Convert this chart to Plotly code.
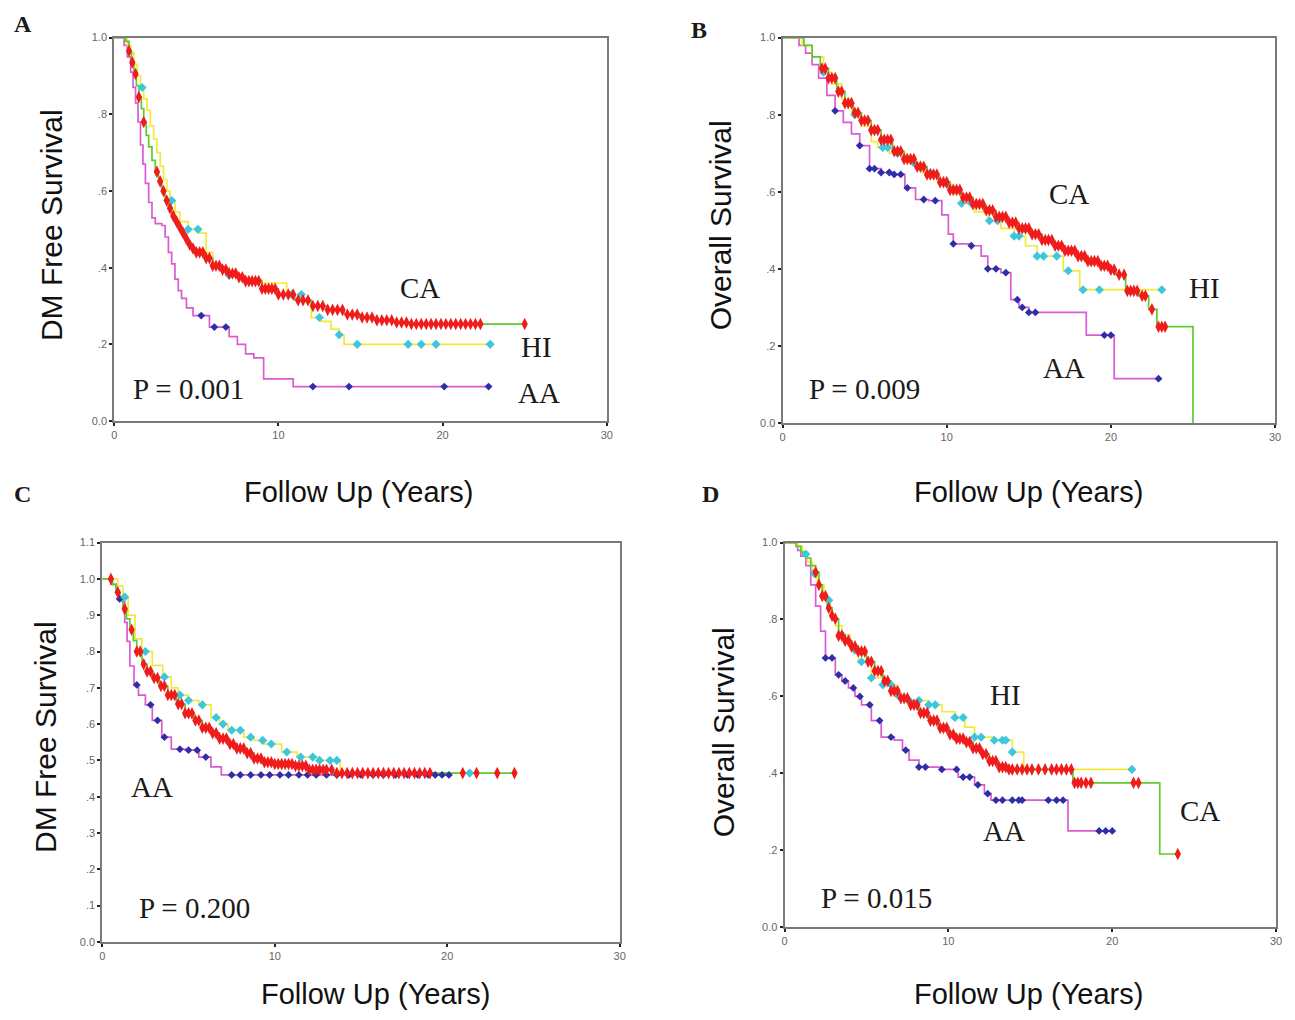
import numpy as np
import plotly.graph_objects as go

W, H = 1295, 1020

# ---------------- Tick labels ----------------
X_TICKS = [0, 10, 20, 30]
X_TICK_TEXT = ["0", "10", "20", "30"]
Y_TICKS = [0, 0.2, 0.4, 0.6, 0.8, 1.0]
Y_TICK_TEXT = ["0.0", ".2", ".4", ".6", ".8", "1.0"]
YC_TICKS = [0, 0.1, 0.2, 0.3, 0.4, 0.5, 0.6, 0.7, 0.8, 0.9, 1.0, 1.1]
YC_TICK_TEXT = ["0.0", ".1", ".2", ".3", ".4", ".5", ".6", ".7", ".8", ".9", "1.0", "1.1"]

# ---------------- Panel A: DM free survival ----------------
A_CA_t = [0, 0.7, 0.9, 1.05, 1.2, 1.35, 1.5, 1.65, 1.8, 1.95, 2.1, 2.3, 2.5, 2.7, 2.9, 3.1, 3.3, 3.5, 3.7, 3.9, 4.1, 4.3, 4.5, 4.75, 5.0, 5.5, 6.0, 6.5, 7.0, 7.5, 8.0, 9.0, 10.0, 11.0, 12.0, 13.0, 14.0, 15.0, 16.0, 17.0, 18.0]
A_CA_s = [1.0, 0.99, 0.965, 0.935, 0.905, 0.875, 0.845, 0.815, 0.78, 0.745, 0.715, 0.68, 0.65, 0.625, 0.60, 0.575, 0.555, 0.535, 0.52, 0.505, 0.49, 0.475, 0.46, 0.45, 0.44, 0.425, 0.405, 0.395, 0.385, 0.375, 0.365, 0.345, 0.33, 0.315, 0.30, 0.29, 0.278, 0.27, 0.263, 0.257, 0.253]
A_CA_end = 25.0
A_CA_cens = [0.9, 1.1, 1.3, 1.5, 1.8, 2.6, 2.8, 3.0, 3.2, 3.4, 3.6, 3.8, 4.0, 4.2, 4.4, 4.6, 4.8, 5.0, 5.2, 5.4, 5.6, 5.8, 6.0, 6.2, 6.4, 6.6, 6.8, 7.0, 7.2, 7.4, 7.6, 7.8, 8.0, 8.2, 8.4, 8.6, 8.8, 9.0, 9.2, 9.4, 9.6, 9.8, 10.0, 10.3, 10.6, 10.9, 11.2, 11.5, 11.8, 12.1, 12.4, 12.7, 13.0, 13.3, 13.6, 13.9, 14.2, 14.5, 14.8, 15.1, 15.4, 15.7, 16.0, 16.3, 16.6, 16.9, 17.2, 17.5, 17.8, 18.1, 18.4, 18.7, 19.0, 19.3, 19.6, 19.9, 20.2, 20.5, 20.8, 21.1, 21.4, 21.7, 22.0, 22.3, 25.0]

A_HI_t = [0, 0.8, 1.0, 1.2, 1.4, 1.6, 1.8, 2.0, 2.2, 2.4, 2.6, 2.8, 3.0, 3.2, 3.4, 3.7, 4.0, 4.5, 5.2, 5.6, 6.0, 7.0, 8.0, 9.0, 10.5, 11.5, 12.0, 12.6, 13.2, 13.7, 14.0]
A_HI_s = [1.0, 0.98, 0.96, 0.93, 0.90, 0.87, 0.84, 0.81, 0.77, 0.735, 0.70, 0.665, 0.63, 0.60, 0.575, 0.545, 0.52, 0.50, 0.49, 0.44, 0.40, 0.38, 0.37, 0.36, 0.33, 0.31, 0.27, 0.26, 0.24, 0.225, 0.20]
A_HI_end = 22.9
A_HI_cens = [1.7, 3.5, 4.5, 5.1, 7.0, 10.8, 11.4, 12.5, 13.7, 14.8, 17.9, 18.7, 19.6, 22.9]

A_AA_t = [0, 0.6, 0.8, 1.0, 1.15, 1.3, 1.45, 1.6, 1.75, 1.9, 2.1, 2.3, 2.5, 2.9, 3.1, 3.3, 3.5, 3.7, 3.9, 4.1, 4.4, 4.8, 5.8, 7.0, 7.5, 8.0, 8.5, 9.1, 10.9]
A_AA_s = [1.0, 0.98, 0.95, 0.91, 0.87, 0.83, 0.78, 0.72, 0.67, 0.62, 0.57, 0.53, 0.515, 0.51, 0.48, 0.44, 0.41, 0.37, 0.34, 0.32, 0.295, 0.275, 0.245, 0.22, 0.20, 0.175, 0.165, 0.11, 0.09]
A_AA_end = 22.8
A_AA_cens = [5.3, 6.1, 6.8, 12.1, 14.3, 20.1, 22.8]

# ---------------- Panel B: overall survival ----------------
B_CA_t = [0, 1.3, 1.8, 2.3, 2.8, 3.3, 3.8, 4.3, 4.8, 5.4, 6.0, 6.7, 7.4, 8.1, 8.8, 9.5, 10.2, 10.9, 11.6, 12.3, 13.0, 13.7, 14.4, 15.1, 15.8, 16.5, 17.2, 17.9, 18.6, 19.3, 19.9, 20.3, 20.9, 21.7, 22.3, 22.8, 25.0]
B_CA_s = [1.0, 0.98, 0.95, 0.92, 0.895, 0.86, 0.83, 0.805, 0.785, 0.76, 0.735, 0.705, 0.685, 0.665, 0.645, 0.625, 0.605, 0.585, 0.568, 0.552, 0.535, 0.52, 0.505, 0.49, 0.475, 0.46, 0.447, 0.433, 0.42, 0.408, 0.398, 0.385, 0.343, 0.33, 0.295, 0.25, 0.0]
B_CA_end = 25.0
B_CA_cens = [2.4, 2.6, 2.8, 3.0, 3.2, 3.4, 3.6, 3.8, 4.0, 4.2, 4.4, 4.6, 4.8, 5.0, 5.2, 5.4, 5.6, 5.8, 6.0, 6.2, 6.4, 6.6, 6.8, 7.0, 7.2, 7.4, 7.6, 7.8, 8.0, 8.2, 8.4, 8.6, 8.8, 9.0, 9.2, 9.4, 9.6, 9.8, 10.0, 10.2, 10.4, 10.6, 10.8, 11.0, 11.2, 11.4, 11.6, 11.8, 12.0, 12.2, 12.4, 12.6, 12.8, 13.0, 13.2, 13.4, 13.6, 13.8, 14.0, 14.2, 14.4, 14.6, 14.8, 15.0, 15.2, 15.4, 15.6, 15.8, 16.0, 16.2, 16.4, 16.6, 16.8, 17.0, 17.2, 17.4, 17.6, 17.8, 18.0, 18.2, 18.4, 18.6, 18.8, 19.0, 19.2, 19.4, 19.6, 19.8, 20.0, 20.2, 20.5, 20.8, 21.0, 21.2, 21.4, 21.6, 21.9, 22.1, 22.5, 22.9, 23.1, 23.3]

B_HI_t = [0, 1.2, 1.8, 2.5, 3.0, 3.6, 4.2, 4.8, 5.4, 5.8, 6.5, 7.5, 8.5, 9.5, 10.3, 10.9, 11.7, 12.5, 13.3, 14.1, 14.8, 15.5, 17.1, 18.1]
B_HI_s = [1.0, 0.98, 0.95, 0.91, 0.88, 0.84, 0.80, 0.77, 0.73, 0.715, 0.70, 0.675, 0.65, 0.62, 0.595, 0.57, 0.548, 0.525, 0.505, 0.485, 0.46, 0.433, 0.395, 0.346]
B_HI_end = 23.1
B_HI_cens = [2.5, 4.4, 6.1, 6.4, 7.0, 8.0, 9.0, 10.0, 10.9, 11.5, 12.6, 13.1, 14.1, 14.4, 15.5, 15.9, 16.7, 17.4, 18.3, 19.3, 23.1]

B_AA_t = [0, 1.0, 1.4, 1.8, 2.2, 2.7, 3.2, 3.7, 4.2, 4.7, 5.3, 6.0, 6.7, 7.45, 8.1, 8.9, 9.7, 10.1, 10.4, 11.5, 12.1, 12.5, 13.3, 13.9, 14.4, 15.0, 18.5, 20.2]
B_AA_s = [1.0, 0.98, 0.96, 0.93, 0.895, 0.85, 0.81, 0.78, 0.75, 0.72, 0.66, 0.65, 0.645, 0.61, 0.58, 0.577, 0.54, 0.49, 0.465, 0.46, 0.433, 0.40, 0.39, 0.32, 0.30, 0.287, 0.228, 0.115]
B_AA_end = 22.9
B_AA_cens = [3.2, 4.7, 5.3, 5.6, 6.0, 6.5, 6.8, 7.2, 7.6, 8.6, 9.3, 10.4, 11.5, 12.5, 13.0, 13.6, 14.3, 14.6, 15.0, 15.4, 19.6, 20.0, 22.9]

# ---------------- Panel C: DM free survival ----------------
C_CA_t = [0, 0.6, 0.8, 1.0, 1.2, 1.4, 1.6, 1.8, 2.0, 2.3, 2.6, 2.9, 3.3, 3.8, 4.3, 4.8, 5.3, 5.8, 6.3, 6.8, 7.3, 7.8, 8.3, 8.8, 9.3, 10.0, 11.1, 11.9, 13.4]
C_CA_s = [1.0, 0.985, 0.963, 0.94, 0.917, 0.89, 0.86, 0.83, 0.80, 0.765, 0.745, 0.727, 0.705, 0.68, 0.655, 0.63, 0.61, 0.59, 0.575, 0.56, 0.545, 0.533, 0.52, 0.505, 0.495, 0.49, 0.485, 0.474, 0.465]
C_CA_end = 24.0
C_CA_cens = [0.5, 0.9, 1.3, 1.7, 2.0, 2.2, 2.4, 2.6, 2.8, 3.0, 3.2, 3.4, 3.6, 3.8, 4.0, 4.2, 4.4, 4.6, 4.8, 5.0, 5.2, 5.4, 5.6, 5.8, 6.0, 6.2, 6.4, 6.6, 6.8, 7.0, 7.2, 7.4, 7.6, 7.8, 8.0, 8.2, 8.4, 8.6, 8.8, 9.0, 9.2, 9.4, 9.6, 9.8, 10.0, 10.2, 10.4, 10.6, 10.8, 11.0, 11.2, 11.4, 11.6, 11.8, 12.0, 12.2, 12.4, 12.6, 12.8, 13.0, 13.3, 13.6, 13.9, 14.2, 14.5, 14.8, 15.1, 15.4, 15.7, 16.0, 16.3, 16.6, 16.9, 17.2, 17.5, 17.8, 18.1, 18.4, 18.7, 19.0, 20.9, 21.7, 22.9, 23.9]

C_HI_t = [0, 0.9, 1.2, 1.5, 1.9, 2.3, 2.9, 3.5, 4.0, 4.4, 5.0, 5.6, 6.3, 6.8, 7.3, 8.2, 8.8, 9.4, 10.4, 11.3, 12.5, 13.8]
C_HI_s = [1.0, 0.98, 0.95, 0.90, 0.835, 0.80, 0.762, 0.73, 0.70, 0.68, 0.665, 0.653, 0.618, 0.60, 0.583, 0.564, 0.555, 0.545, 0.523, 0.509, 0.50, 0.465]
C_HI_end = 21.3
C_HI_cens = [1.3, 2.5, 3.6, 4.5, 5.0, 5.8, 6.6, 7.0, 7.5, 8.0, 8.6, 9.3, 9.8, 10.7, 11.5, 12.2, 12.6, 13.2, 13.6, 21.3]

C_AA_t = [0, 0.5, 0.8, 1.0, 1.15, 1.3, 1.44, 1.6, 1.84, 2.1, 2.5, 2.9, 3.45, 4.0, 4.8, 5.6, 6.3, 6.9]
C_AA_s = [1.0, 0.985, 0.96, 0.945, 0.937, 0.88, 0.828, 0.76, 0.708, 0.68, 0.653, 0.61, 0.564, 0.531, 0.528, 0.509, 0.482, 0.46]
C_AA_end = 20.1
C_AA_cens = [1.0, 2.0, 2.8, 3.2, 3.6, 4.5, 5.0, 5.5, 6.0, 7.5, 8.0, 8.6, 9.2, 9.7, 10.3, 10.8, 11.4, 11.9, 12.4, 13.0, 13.6, 14.3, 15.0, 15.7, 16.3, 17.0, 17.7, 18.3, 18.9, 19.3, 19.7, 20.1]

# ---------------- Panel D: overall survival ----------------
D_CA_t = [0, 0.7, 1.0, 1.3, 1.6, 1.9, 2.1, 2.3, 2.6, 2.9, 3.1, 3.3, 3.7, 4.1, 4.5, 5.0, 5.5, 6.0, 6.5, 7.0, 7.6, 8.2, 8.8, 9.4, 10.0, 10.5, 11.0, 11.5, 12.0, 12.5, 13.0, 13.6, 17.6, 22.9]
D_CA_s = [1.0, 0.99, 0.975, 0.96, 0.94, 0.923, 0.89, 0.861, 0.83, 0.81, 0.802, 0.758, 0.745, 0.73, 0.717, 0.69, 0.666, 0.64, 0.614, 0.595, 0.578, 0.557, 0.537, 0.518, 0.501, 0.49, 0.481, 0.465, 0.45, 0.432, 0.416, 0.41, 0.375, 0.19]
D_CA_end = 24.0
D_CA_cens = [1.9, 2.1, 2.3, 2.5, 2.7, 2.9, 3.1, 3.3, 3.5, 3.7, 3.9, 4.1, 4.3, 4.5, 4.7, 4.9, 5.1, 5.3, 5.5, 5.7, 5.9, 6.1, 6.3, 6.5, 6.7, 6.9, 7.1, 7.3, 7.5, 7.7, 7.9, 8.1, 8.3, 8.5, 8.7, 8.9, 9.1, 9.3, 9.5, 9.7, 9.9, 10.1, 10.3, 10.5, 10.7, 10.9, 11.1, 11.3, 11.5, 11.7, 11.9, 12.1, 12.3, 12.5, 12.7, 12.9, 13.1, 13.3, 13.5, 13.7, 13.9, 14.2, 14.5, 14.8, 15.1, 15.5, 15.9, 16.3, 16.6, 16.9, 17.2, 17.5, 17.7, 17.9, 18.1, 18.4, 18.7, 21.3, 21.6, 24.0]

D_HI_t = [0, 0.8, 1.1, 1.4, 1.7, 2.0, 2.4, 2.8, 3.1, 3.5, 4.0, 4.5, 5.3, 6.0, 6.8, 7.6, 8.8, 9.6, 10.4, 11.0, 11.6, 12.8, 13.9, 14.6]
D_HI_s = [1.0, 0.99, 0.97, 0.95, 0.92, 0.89, 0.85, 0.81, 0.784, 0.76, 0.72, 0.69, 0.648, 0.63, 0.60, 0.589, 0.578, 0.56, 0.545, 0.52, 0.494, 0.486, 0.455, 0.41]
D_HI_end = 21.2
D_HI_cens = [1.3, 1.8, 2.7, 3.5, 4.3, 4.7, 5.3, 6.0, 6.5, 7.0, 7.6, 8.2, 8.8, 9.2, 10.4, 10.9, 11.6, 12.0, 12.8, 13.3, 13.5, 13.9, 21.2]

D_AA_t = [0, 0.8, 1.0, 1.3, 1.6, 1.9, 2.2, 2.5, 3.1, 3.5, 3.9, 4.3, 4.7, 5.3, 5.9, 6.7, 7.2, 7.6, 8.2, 9.6, 10.6, 11.6, 12.2, 12.6, 17.3]
D_AA_s = [1.0, 0.98, 0.965, 0.94, 0.89, 0.835, 0.77, 0.70, 0.656, 0.64, 0.622, 0.60, 0.578, 0.537, 0.494, 0.486, 0.46, 0.434, 0.416, 0.41, 0.39, 0.37, 0.347, 0.33, 0.25]
D_AA_end = 20.1
D_AA_cens = [2.5, 2.9, 3.3, 3.7, 4.2, 4.6, 5.2, 5.8, 6.5, 7.4, 8.2, 8.6, 9.6, 10.5, 10.9, 11.3, 11.8, 12.4, 12.9, 13.3, 13.9, 14.3, 14.5, 16.1, 16.6, 17.0, 19.2, 19.6, 20.0]

# ---------------- Styling ----------------
# group: (line colour, marker colour, marker symbol, marker size)
COL = {
    "CA": ("#5ccc2e", "#f01c1c", "diamond-tall", 9),
    "HI": ("#f2ea3a", "#3ec6dc", "diamond", 7),
    "AA": ("#dc5ad2", "#2e2ea8", "diamond", 6),
}
SANS = "Liberation Sans, Arial, sans-serif"
SERIF = "Liberation Serif, Times New Roman, serif"


def px(x, y):
    return x / W, 1 - y / H


fig = go.Figure()


def step_value(t, s, c):
    i = int(np.searchsorted(np.asarray(t), c, side="right")) - 1
    return s[max(i, 0)]


def add_group(ax, ay, t, s, end, cens, grp, part):
    lc, mc, sym, ms = COL[grp]
    if part == "line":
        fig.add_trace(go.Scatter(
            x=list(t) + [end], y=list(s) + [s[-1]], mode="lines",
            line=dict(color=lc, width=1.7, shape="hv"),
            xaxis=ax, yaxis=ay, hoverinfo="skip", showlegend=False))
    else:
        fig.add_trace(go.Scatter(
            x=cens, y=[step_value(t, s, c) for c in cens], mode="markers",
            marker=dict(symbol=sym, size=ms, color=mc, line=dict(width=0)),
            xaxis=ax, yaxis=ay, hoverinfo="skip", showlegend=False, cliponaxis=False))


panels = [
    ("x", "y", [(A_AA_t, A_AA_s, A_AA_end, A_AA_cens, "AA"), (A_HI_t, A_HI_s, A_HI_end, A_HI_cens, "HI"), (A_CA_t, A_CA_s, A_CA_end, A_CA_cens, "CA")]),
    ("x2", "y2", [(B_AA_t, B_AA_s, B_AA_end, B_AA_cens, "AA"), (B_HI_t, B_HI_s, B_HI_end, B_HI_cens, "HI"), (B_CA_t, B_CA_s, B_CA_end, B_CA_cens, "CA")]),
    ("x3", "y3", [(C_AA_t, C_AA_s, C_AA_end, C_AA_cens, "AA"), (C_HI_t, C_HI_s, C_HI_end, C_HI_cens, "HI"), (C_CA_t, C_CA_s, C_CA_end, C_CA_cens, "CA")]),
    ("x4", "y4", [(D_AA_t, D_AA_s, D_AA_end, D_AA_cens, "AA"), (D_HI_t, D_HI_s, D_HI_end, D_HI_cens, "HI"), (D_CA_t, D_CA_s, D_CA_end, D_CA_cens, "CA")]),
]
for ax, ay, groups in panels:
    for g in groups:
        add_group(ax, ay, *g, part="line")
    for g in groups:
        add_group(ax, ay, *g, part="marker")

# plot-area boxes in pixels: (left, right, top, bottom)
boxes = {
    "1": (112, 608, 32, 420),
    "2": (785, 1281, 32, 422),
    "3": (100, 621, 543, 947),
    "4": (787, 1282, 543, 932),
}

axis_common = dict(showgrid=False, zeroline=False, showline=True, mirror=True,
                   linecolor="#7a7a7a", linewidth=2, ticks="outside", ticklen=3,
                   tickwidth=2, tickcolor="#222",
                   tickfont=dict(family=SANS, size=11, color="#666"))
layout_axes = {}
for k, (l, r, t, b) in boxes.items():
    xk = "xaxis" if k == "1" else "xaxis" + k
    yk = "yaxis" if k == "1" else "yaxis" + k
    yref = "y" if k == "1" else "y" + k
    xref = "x" if k == "1" else "x" + k
    layout_axes[xk] = dict(domain=[l / W, r / W], range=[0, 30], anchor=yref,
                           tickvals=X_TICKS, ticktext=X_TICK_TEXT, **axis_common)
    if k == "3":
        yt, ytt, yr = YC_TICKS, YC_TICK_TEXT, [0, 1.1]
    else:
        yt, ytt, yr = Y_TICKS, Y_TICK_TEXT, [0, 1.0]
    layout_axes[yk] = dict(domain=[1 - b / H, 1 - t / H], range=yr, anchor=xref,
                           tickvals=yt, ticktext=ytt, **axis_common)

ann = []


def text(x, y, s, size, family, angle=0, color="#1a1a1a"):
    X, Y = px(x, y)
    ann.append(dict(x=X, y=Y, xref="paper", yref="paper", text=s, showarrow=False,
                    xanchor="center", yanchor="middle", textangle=angle,
                    font=dict(size=size, family=family, color=color)))


# panel letters
text(20, 18, "<b>A</b>", 24, SERIF)
text(701, 24, "<b>B</b>", 24, SERIF)
text(20, 494, "<b>C</b>", 24, SERIF)
text(712, 494, "<b>D</b>", 24, SERIF)
# axis titles
text(49, 222, "DM Free Survival", 30, SANS, -90, "#111")
text(722, 222, "Overall Survival", 30, SANS, -90, "#111")
text(43, 740, "DM Free Survival", 30, SANS, -90, "#111")
text(725, 735, "Overall Survival", 30, SANS, -90, "#111")
text(358, 492, "Follow Up (Years)", 29, SANS, 0, "#111")
text(1033, 492, "Follow Up (Years)", 29, SANS, 0, "#111")
text(375, 1000, "Follow Up (Years)", 29, SANS, 0, "#111")
text(1033, 1000, "Follow Up (Years)", 29, SANS, 0, "#111")
# in-plot labels
text(420, 285, "CA", 29, SERIF)
text(537, 345, "HI", 29, SERIF)
text(540, 392, "AA", 29, SERIF)
text(187, 388, "P = 0.001", 29, SERIF)
text(1073, 190, "CA", 29, SERIF)
text(1210, 285, "HI", 29, SERIF)
text(1068, 366, "AA", 29, SERIF)
text(868, 388, "P = 0.009", 29, SERIF)
text(150, 790, "AA", 29, SERIF)
text(193, 913, "P = 0.200", 29, SERIF)
text(1010, 697, "HI", 29, SERIF)
text(1205, 815, "CA", 29, SERIF)
text(1008, 835, "AA", 29, SERIF)
text(880, 903, "P = 0.015", 29, SERIF)

fig.update_layout(width=W, height=H, margin=dict(l=0, r=0, t=0, b=0),
                  paper_bgcolor="white", plot_bgcolor="white",
                  showlegend=False, annotations=ann, **layout_axes)

fig.write_html("out.html", config={"displayModeBar": False},
               post_script="document.body.style.margin='0px';"
                           "document.documentElement.style.overflow='hidden';")
